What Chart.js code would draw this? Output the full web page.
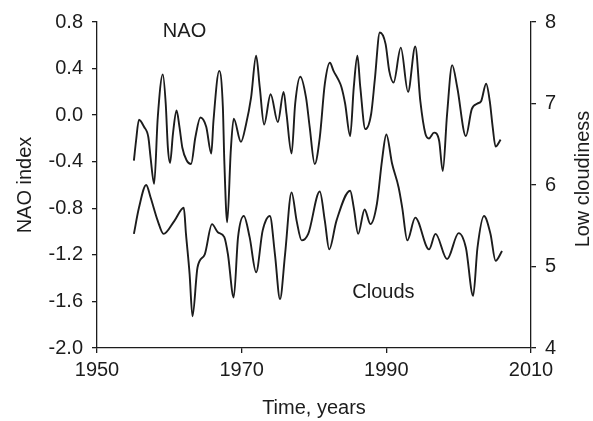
<!DOCTYPE html>
<html>
<head>
<meta charset="utf-8">
<script src="https://cdn.jsdelivr.net/npm/chart.js@4/dist/chart.umd.min.js"></script>
<style>
  html, body { margin: 0; padding: 0; background: #fff; }
  #wrap { width: 593px; height: 421px; }
</style>
</head>
<body>
<div id="wrap"><canvas id="c"></canvas></div>
<script>
// ── Data ──
const naoYears = [1955.1, 1955.4, 1955.8, 1956.5, 1957.1, 1957.4, 1957.9, 1958.4, 1959.1, 1959.5,
  1959.8, 1960.1, 1960.5, 1961.0, 1961.4, 1961.8, 1962.4, 1963.0, 1963.6, 1964.3,
  1965.1, 1965.8, 1966.1, 1966.9, 1967.4, 1967.6, 1968.0, 1968.5, 1968.9, 1969.9,
  1970.6, 1971.3, 1972.0, 1972.5, 1973.1, 1974.0, 1975.0, 1975.8, 1976.2, 1976.9,
  1977.4, 1978.1, 1978.9, 1979.4, 1980.1, 1980.8, 1981.5, 1982.2, 1982.7, 1983.4,
  1983.8, 1984.3, 1985.0, 1985.5, 1986.0, 1986.4, 1987.1, 1987.9, 1988.4, 1989.1,
  1989.9, 1990.4, 1991.0, 1992.0, 1993.0, 1994.0, 1994.7, 1995.4, 1995.9, 1996.6,
  1997.3, 1997.8, 1998.4, 1999.1, 1999.8, 2001.0, 2001.8, 2002.6, 2003.1, 2003.8,
  2004.3, 2004.7, 2005.1, 2005.8];
const naoValues = [-0.39, -0.22, -0.04, -0.10, -0.19, -0.36, -0.59, -0.02, 0.35, 0.10,
  -0.28, -0.41, -0.16, 0.04, -0.10, -0.28, -0.39, -0.42, -0.19, -0.02,
  -0.10, -0.33, -0.05, 0.38, 0.07, -0.39, -0.92, -0.30, -0.03, -0.23,
  -0.08, 0.15, 0.51, 0.24, -0.08, 0.18, -0.06, 0.20, 0.01, -0.33,
  0.10, 0.33, 0.15, -0.10, -0.42, -0.19, 0.27, 0.45, 0.38, 0.30,
  0.24, 0.10, -0.18, 0.24, 0.51, 0.24, -0.12, 0.01, 0.30, 0.71,
  0.61, 0.38, 0.28, 0.58, 0.20, 0.59, 0.12, -0.16, -0.20, -0.15,
  -0.22, -0.48, 0.01, 0.43, 0.24, -0.18, 0.05, 0.10, 0.12, 0.27,
  0.12, -0.10, -0.27, -0.21];

const cloudYears = [1955.1, 1955.8, 1956.8, 1957.4, 1958.4, 1959.2, 1960.7, 1962.0, 1962.3, 1962.8,
  1963.2, 1963.9, 1964.9, 1965.9, 1966.7, 1967.6, 1968.1, 1968.9, 1969.5, 1970.3,
  1971.1, 1972.0, 1972.9, 1973.9, 1974.6, 1975.3, 1976.0, 1976.9, 1977.6, 1978.3,
  1979.2, 1980.8, 1981.5, 1982.1, 1983.1, 1985.0, 1985.5, 1986.1, 1987.0, 1987.8,
  1988.7, 1989.4, 1990.0, 1990.8, 1991.7, 1992.2, 1992.9, 1994.0, 1995.9, 1996.8,
  1998.4, 2000.0, 2001.0, 2002.0, 2002.6, 2003.5, 2004.4, 2005.1, 2006.0];
const cloudValues = [5.40, 5.72, 6.00, 5.85, 5.56, 5.40, 5.56, 5.72, 5.40, 4.91,
  4.39, 4.99, 5.15, 5.52, 5.42, 5.36, 5.15, 4.62, 5.36, 5.62,
  5.36, 4.93, 5.44, 5.62, 5.15, 4.60, 5.15, 5.91, 5.56, 5.32,
  5.40, 5.92, 5.56, 5.21, 5.56, 5.93, 5.72, 5.40, 5.70, 5.52,
  5.77, 6.30, 6.62, 6.26, 5.97, 5.72, 5.32, 5.60, 5.21, 5.40,
  5.09, 5.41, 5.23, 4.64, 5.23, 5.62, 5.40, 5.07, 5.19];

const naoTicks = [-2.0, -1.6, -1.2, -0.8, -0.4, 0.0, 0.4, 0.8];
const cloudTicks = [4, 5, 6, 7, 8];
const yearTicks = [1950, 1970, 1990, 2010];

const FONT = "'Liberation Sans', Arial, sans-serif";
const INK = "#1c1c1c";

const pts = (xs, ys) => xs.map((x, i) => ({ x: x, y: ys[i] }));

// ── Text labels (series names, right-hand title reading upwards) ──
const labelsPlugin = {
  id: "labels",
  afterDraw(chart) {
    const { ctx, scales } = chart;
    ctx.save();
    ctx.fillStyle = INK;
    ctx.font = `20px ${FONT}`;
    ctx.textAlign = "center";
    ctx.textBaseline = "middle";
    ctx.fillText("NAO", scales.x.getPixelForValue(1962.1), scales.y.getPixelForValue(0.72));
    ctx.fillText("Clouds", scales.x.getPixelForValue(1989.6), scales.y1.getPixelForValue(4.68));
    ctx.translate(583, 179);
    ctx.rotate(-Math.PI / 2);
    ctx.fillText("Low cloudiness", 0, 0);
    ctx.restore();
  },
};

const axisGrid = { drawOnChartArea: false, drawTicks: true, tickLength: 5, color: INK, lineWidth: 1.3 };
const axisBorder = { display: true, color: INK, width: 1.3 };

new Chart(document.getElementById("c"), {
  type: "line",
  data: {
    datasets: [
      {
        label: "NAO",
        data: pts(naoYears, naoValues),
        yAxisID: "y",
        borderColor: INK,
        borderWidth: 1.9,
        pointRadius: 0,
        fill: false,
        cubicInterpolationMode: "monotone",
      },
      {
        label: "Clouds",
        data: pts(cloudYears, cloudValues),
        yAxisID: "y1",
        borderColor: INK,
        borderWidth: 1.9,
        pointRadius: 0,
        fill: false,
        cubicInterpolationMode: "monotone",
      },
    ],
  },
  options: {
    responsive: true,
    maintainAspectRatio: false,
    animation: false,
    layout: { padding: { top: 22, left: 0, right: 0, bottom: 0 } },
    plugins: { legend: { display: false }, tooltip: { enabled: false } },
    scales: {
      x: {
        type: "linear",
        min: 1950,
        max: 2010,
        afterBuildTicks: (s) => { s.ticks = yearTicks.map((v) => ({ value: v })); },
        afterFit: (s) => { s.height = 73; },
        ticks: { color: INK, font: { size: 20, family: FONT }, padding: 5, maxRotation: 0, callback: (v) => String(v) },
        grid: axisGrid,
        border: axisBorder,
        title: { display: true, text: "Time, years", color: INK, font: { size: 20, family: FONT }, padding: { top: 4, bottom: 1 } },
      },
      y: {
        position: "left",
        min: -2.0,
        max: 0.8,
        afterBuildTicks: (s) => { s.ticks = naoTicks.map((v) => ({ value: v })); },
        afterFit: (s) => { s.width = 97; },
        ticks: { color: INK, font: { size: 20, family: FONT }, padding: 9, callback: (v) => v.toFixed(1) },
        grid: axisGrid,
        border: axisBorder,
        title: { display: true, text: "NAO index", color: INK, font: { size: 20, family: FONT }, padding: { top: 13, bottom: 0 } },
      },
      y1: {
        position: "right",
        min: 4,
        max: 8,
        afterBuildTicks: (s) => { s.ticks = cloudTicks.map((v) => ({ value: v })); },
        afterFit: (s) => { s.width = 62; },
        ticks: { color: INK, font: { size: 20, family: FONT }, padding: 9, callback: (v) => String(v) },
        grid: axisGrid,
        border: axisBorder,
      },
    },
  },
  plugins: [labelsPlugin],
});
</script>
</body>
</html>
